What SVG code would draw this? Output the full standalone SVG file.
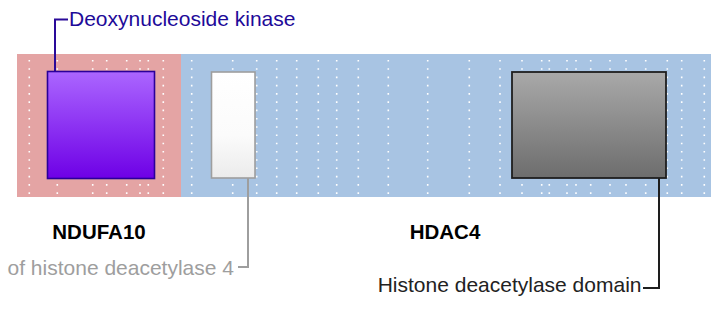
<svg xmlns="http://www.w3.org/2000/svg" width="719" height="327" viewBox="0 0 719 327">
<defs>
<linearGradient id="gPurple" x1="0" y1="0" x2="0" y2="1"><stop offset="0" stop-color="#ab66ff"/><stop offset="1" stop-color="#6e00e6"/></linearGradient>
<linearGradient id="gWhite" x1="0" y1="0" x2="0" y2="1"><stop offset="0" stop-color="#ffffff"/><stop offset="0.6" stop-color="#fbfbfb"/><stop offset="1" stop-color="#ebebeb"/></linearGradient>
<linearGradient id="gGray" x1="0" y1="0" x2="0" y2="1"><stop offset="0" stop-color="#a9a9a9"/><stop offset="1" stop-color="#6d6d6d"/></linearGradient>
</defs>
<style>
.dots line{stroke:#ffffff;stroke-width:1.6;stroke-dasharray:1.6 6.67}
.lbl{font-family:"Liberation Sans",Arial,sans-serif;font-size:21px}
.name{font-family:"Liberation Sans",Arial,sans-serif;font-size:20.5px;font-weight:bold;fill:#000;text-anchor:middle}
.conn{fill:none;stroke-width:2}
</style>
<g id="band-NDUFA10">
<rect x="17" y="54" width="164" height="143" fill="#e4a4a4"/>
</g>
<g id="band-HDAC4">
<rect x="181" y="54" width="530" height="143" fill="#a8c4e3"/>
</g>
<g class="dots">
<line x1="29.3" y1="60" x2="29.3" y2="195"/>
<line x1="57.3" y1="60" x2="57.3" y2="195"/>
<line x1="92.7" y1="60" x2="92.7" y2="195"/>
<line x1="106.7" y1="60" x2="106.7" y2="195"/>
<line x1="126.7" y1="60" x2="126.7" y2="195"/>
<line x1="140" y1="60" x2="140" y2="195"/>
<line x1="148.3" y1="60" x2="148.3" y2="195"/>
<line x1="163.3" y1="60" x2="163.3" y2="195"/>
<line x1="191.7" y1="60" x2="191.7" y2="195"/>
<line x1="232.7" y1="60" x2="232.7" y2="195"/>
<line x1="256.7" y1="60" x2="256.7" y2="195"/>
<line x1="276.7" y1="60" x2="276.7" y2="195"/>
<line x1="296.7" y1="60" x2="296.7" y2="195"/>
<line x1="318.3" y1="60" x2="318.3" y2="195"/>
<line x1="336.7" y1="60" x2="336.7" y2="195"/>
<line x1="358.3" y1="60" x2="358.3" y2="195"/>
<line x1="388.3" y1="60" x2="388.3" y2="195"/>
<line x1="427.7" y1="60" x2="427.7" y2="195"/>
<line x1="469.3" y1="60" x2="469.3" y2="195"/>
<line x1="500" y1="60" x2="500" y2="195"/>
<line x1="522" y1="60" x2="522" y2="195"/>
<line x1="541.7" y1="60" x2="541.7" y2="195"/>
<line x1="549.3" y1="60" x2="549.3" y2="195"/>
<line x1="567" y1="60" x2="567" y2="195"/>
<line x1="576" y1="60" x2="576" y2="195"/>
<line x1="590.7" y1="60" x2="590.7" y2="195"/>
<line x1="610" y1="60" x2="610" y2="195"/>
<line x1="626" y1="60" x2="626" y2="195"/>
<line x1="645.7" y1="60" x2="645.7" y2="195"/>
<line x1="667.3" y1="60" x2="667.3" y2="195"/>
<line x1="681.7" y1="60" x2="681.7" y2="195"/>
<line x1="704.3" y1="60" x2="704.3" y2="195"/>
</g>
<g id="connectors">
<polyline class="conn" stroke="#2a0a99" points="55,72 55,19.5 68,19.5"/>
<polyline class="conn" stroke="#9e9e9e" points="248,178 248,267 238,267"/>
<polyline class="conn" stroke="#1e1e1e" points="659,178 659,288 643,288"/>
</g>
<g id="domain-deoxynucleoside-kinase">
<rect x="47.5" y="71.5" width="107" height="107" fill="url(#gPurple)" stroke="#2a0099" stroke-width="1.6"/>
<text class="lbl" x="69" y="26" fill="#1e0a99">Deoxynucleoside kinase</text>
</g>
<g id="domain-hdac4-n">
<rect x="211.5" y="72" width="43.5" height="106" fill="url(#gWhite)" stroke="#9e9e9e" stroke-width="1.6"/>
<text class="lbl" x="234" y="275" fill="#9e9e9e" text-anchor="end">of histone deacetylase 4</text>
</g>
<g id="domain-histone-deacetylase">
<rect x="512" y="72" width="154" height="106" fill="url(#gGray)" stroke="#1e1e1e" stroke-width="1.8"/>
<text class="lbl" x="641.5" y="292" fill="#222" text-anchor="end">Histone deacetylase domain</text>
</g>
<g id="label-NDUFA10"><text class="name" x="99" y="239">NDUFA10</text></g>
<g id="label-HDAC4"><text class="name" x="445" y="239">HDAC4</text></g>
</svg>
